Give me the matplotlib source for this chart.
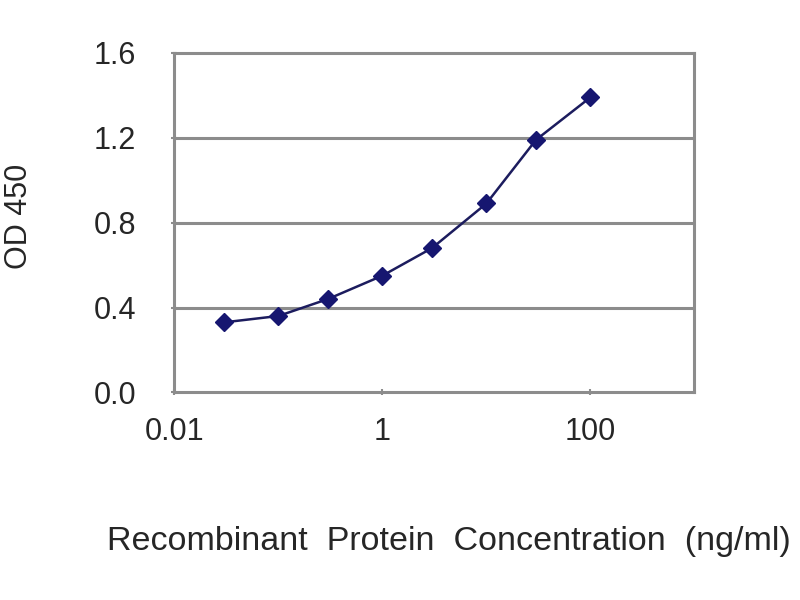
import matplotlib.pyplot as plt
from matplotlib.ticker import FixedLocator, NullLocator

plt.rcParams['font.family'] = ['Liberation Sans', 'DejaVu Sans']

# Concentrations (ng/ml) and OD 450 readings
concentration = [0.03, 0.1, 0.3, 1, 3, 10, 30, 100]
od450 = [0.33, 0.36, 0.44, 0.55, 0.68, 0.89, 1.19, 1.39]

x_ticks = [0.01, 1, 100]
x_tick_labels = ['0.01', '1', '100']
y_ticks = [0.0, 0.4, 0.8, 1.2, 1.6]
y_tick_labels = ['0.0', '0.4', '0.8', '1.2', '1.6']

fig = plt.figure(figsize=(8, 6), dpi=100)
ax = fig.add_axes([0.218, 0.346, 0.650, 0.566])

grid_col = '#8c8c8c'
text_col = '#262626'
for y in y_ticks[1:-1]:
    ax.axhline(y, color=grid_col, linewidth=2.2, zorder=1)

ax.plot(concentration, od450, color='#1c1c5e', linewidth=1.8, marker='D',
        markersize=9, markerfacecolor='#161670', markeredgecolor='#161670', zorder=3)

ax.set_xscale('log')
ax.set_xlim(0.01, 1000)
ax.set_ylim(0, 1.6)
ax.xaxis.set_major_locator(FixedLocator(x_ticks))
ax.xaxis.set_minor_locator(NullLocator())
ax.set_xticklabels(x_tick_labels)
ax.set_yticks(y_ticks)
ax.set_yticklabels(y_tick_labels)

for side in ax.spines.values():
    side.set_color(grid_col)
    side.set_linewidth(2.2)

ax.tick_params(axis='both', labelsize=22, colors=text_col, length=5,
               width=1.5, direction='inout')
ax.tick_params(axis='x', color=grid_col, pad=15)
ax.tick_params(axis='y', color=grid_col, pad=25)

fig.text(0.024, 0.64, 'OD 450', rotation=90, fontsize=22, color=text_col,
         ha='center', va='center')
fig.text(0.134, 0.097, 'Recombinant  Protein  Concentration  (ng/ml)',
         fontsize=24.5, color=text_col, ha='left', va='center')

fig.savefig('out.png', dpi=100)
